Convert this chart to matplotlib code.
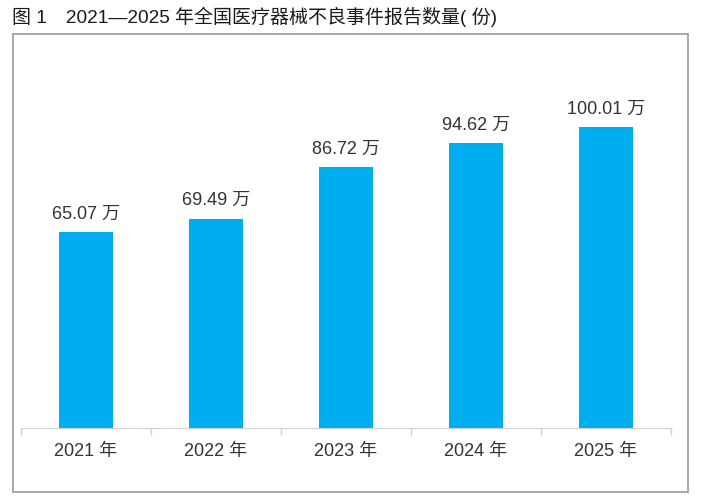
import matplotlib
matplotlib.use('Agg')
import matplotlib.pyplot as plt
from matplotlib.patches import Rectangle

plt.rcParams['font.family'] = ['Liberation Sans', 'Noto Sans CJK SC', 'DejaVu Sans']

# data
years = ['2021 年', '2022 年', '2023 年', '2024 年', '2025 年']
reports = [65.07, 69.49, 86.72, 94.62, 100.01]  # 万份
title = '图 1　2021—2025 年全国医疗器械不良事件报告数量( 份)'

W, H = 702, 499
fig = plt.figure(figsize=(W / 100, H / 100), dpi=100)

# outer frame
fig.patches.append(Rectangle((13 / W, 1 - 492 / H), (688 - 13) / W, (492 - 34) / H,
                             transform=fig.transFigure, fill=False,
                             edgecolor='#a0a0a0', linewidth=1.3))

fig.text(12 / W, 1 - 17 / H, title, fontsize=13.7, color='#1a1a1a',
         ha='left', va='center')

ax = fig.add_axes([21 / W, 1 - 428 / H, 650 / W, (428 - 67) / H])
x = range(len(years))
bars = ax.bar(x, reports, width=0.41, color='#00aeef')
ax.set_xlim(-0.5, len(years) - 0.5)
ax.set_ylim(0, 120)

for b, v in zip(bars, reports):
    ax.annotate(f'{v:.2f} 万', (b.get_x() + b.get_width() / 2, v),
                xytext=(0, 7), textcoords='offset points',
                ha='center', va='bottom', fontsize=13, color='#333333')

for s in ['top', 'right', 'left']:
    ax.spines[s].set_visible(False)
ax.spines['bottom'].set_color('#d0d0d0')
ax.set_yticks([])
ax.set_xticks([i - 0.5 for i in range(len(years) + 1)], minor=False)
ax.set_xticklabels([])
ax.tick_params(axis='x', length=5, color='#d0d0d0', width=1)
ax.set_xticks(list(x), minor=True)
ax.set_xticklabels(years, minor=True)
ax.tick_params(axis='x', which='minor', length=0, pad=11, labelsize=13,
               labelcolor='#333333')

fig.savefig('out.png', dpi=100)
